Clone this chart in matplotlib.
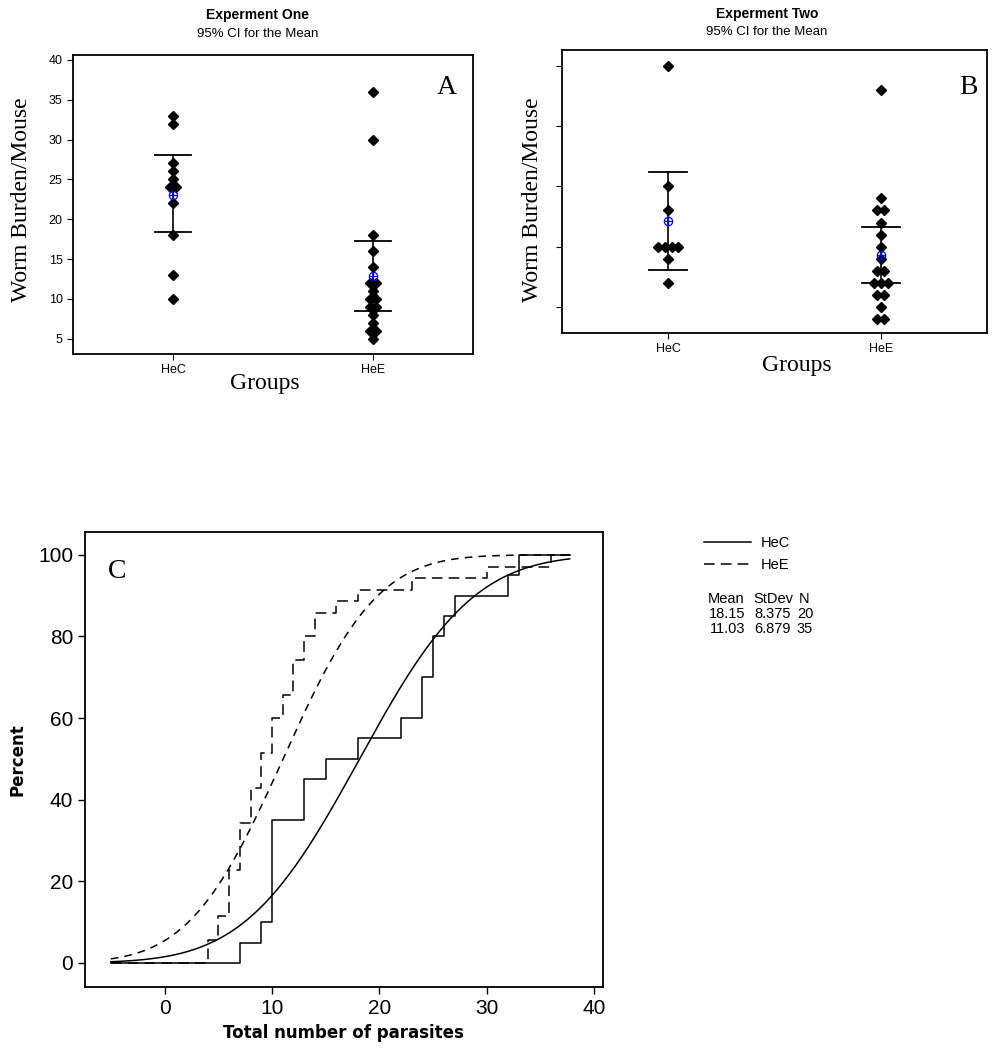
import math
import numpy as np
import matplotlib
matplotlib.use("Agg")
import matplotlib.pyplot as plt

# --- data ---
groups = ["HeC", "HeE"]

# Experiment one (panel A)
exp1_hec = [33, 32, 27, 26, 25, 24, 24, 22, 18, 13, 10]
exp1_hee = [36, 30, 18, 16, 14, 12, 12, 11, 10, 10, 9, 9, 8, 7, 6, 6, 5]
exp1_ci = [(18.4, 28.0), (8.5, 17.3)]

# Experiment two (panel B)
exp2_hec = [25, 15, 13, 10, 10, 10, 10, 9, 7]
exp2_hee = [23, 14, 13, 13, 12, 11, 10, 9, 8, 8, 7, 7, 7, 6, 6, 5, 4, 4]
exp2_ci = [(8.1, 16.2), (7.0, 11.6)]

# panel C summary table
means = [18.15, 11.03]
stdevs = [8.375, 6.879]
counts = [20, 35]
x_range = (-5.0, 37.7)

SANS = ["Liberation Sans", "DejaVu Sans"]
SERIF = ["Liberation Serif", "DejaVu Serif"]

fig = plt.figure(figsize=(9.99, 10.5), dpi=100)


def px(x, y):
    return x / 999, 1 - y / 1050


def jitter(vals, dx):
    vals = np.asarray(vals)
    offs = np.zeros(len(vals))
    for v in np.unique(vals):
        idx = np.where(vals == v)[0]
        n = len(idx)
        offs[idx] = (np.arange(n) - (n - 1) / 2) * dx
    return offs


def interval_panel(ax, data, ci, ylim, yticks, show_labels):
    for i, vals in enumerate(data):
        pos = i + 1
        lo, hi = ci[i]
        ax.plot([pos, pos], [lo, hi], color="black", lw=1.2, zorder=2)
        for yy in (lo, hi):
            ax.plot([pos - 0.09, pos + 0.09], [yy, yy], color="black", lw=1.3, zorder=2)
        ax.plot(pos + jitter(vals, 0.032), vals, "D", color="black", ms=4.8,
                mec="black", zorder=3)
        m = np.mean(vals)
        ax.plot(pos, m, "o", mfc="none", mec="blue", ms=6, mew=0.9, zorder=4)
        ax.plot(pos, m, "+", color="blue", ms=6, mew=0.9, zorder=4)
    ax.set_xlim(0.5, 2.5)
    ax.set_ylim(*ylim)
    ax.set_xticks([1, 2])
    ax.set_xticklabels(groups, family=SANS, fontsize=9)
    ax.set_yticks(yticks)
    if show_labels:
        ax.set_yticklabels([str(t) for t in yticks], family=SANS, fontsize=9)
    else:
        ax.set_yticklabels([])
    ax.tick_params(direction="out", length=4, width=0.8)
    for s in ax.spines.values():
        s.set_linewidth(1.3)


# Panel A
axA = fig.add_axes([73 / 999, 1 - 354 / 1050, 400 / 999, 299 / 1050])
interval_panel(axA, [exp1_hec, exp1_hee], exp1_ci, (3.1, 40.6),
               [5, 10, 15, 20, 25, 30, 35, 40], True)

# Panel B
axB = fig.add_axes([562 / 999, 1 - 333 / 1050, 425 / 999, 283 / 1050])
interval_panel(axB, [exp2_hec, exp2_hee], exp2_ci, (2.84, 26.3),
               [5, 10, 15, 20, 25], False)

for (tx, ty, t) in [(258, 15, "Experment One"), (767, 14, "Experment Two")]:
    fig.text(*px(tx, ty), t, ha="center", va="center", fontsize=10,
             fontweight="bold", family=SANS)
for (tx, ty) in [(258, 34), (767, 32)]:
    fig.text(*px(tx, ty), "95% CI for the Mean", ha="center", va="center",
             fontsize=9.5, family=SANS)

for (tx, ty) in [(22, 200), (532, 200)]:
    fig.text(*px(tx, ty), "Worm Burden/Mouse", rotation=90, ha="center",
             va="center", fontsize=17, family=SERIF)
for (tx, ty) in [(265, 383), (797, 365)]:
    fig.text(*px(tx, ty), "Groups", ha="center", va="center", fontsize=17,
             family=SERIF)
fig.text(*px(447, 88), "A", ha="center", va="center", fontsize=20, family=SERIF)
fig.text(*px(968, 87), "B", ha="center", va="center", fontsize=20, family=SERIF)

# Panel C: empirical CDF with fitted normal
axC = fig.add_axes([85 / 999, 1 - 987 / 1050, 518 / 999, 455 / 1050])
step_styles = ["-", (0, (7, 4))]
fit_styles = ["-", (0, (5, 4))]
all_data = [exp1_hec + exp2_hec, exp1_hee + exp2_hee]
xs = np.linspace(x_range[0], x_range[1], 300)
for i, vals in enumerate(all_data):
    vals = np.sort(vals)
    u, c = np.unique(vals, return_counts=True)
    pct = np.cumsum(c) / len(vals) * 100
    sx = np.concatenate([[x_range[0]], u, [x_range[1]]])
    sy = np.concatenate([[0], pct, [100]])
    axC.step(sx, sy, where="post", color="black", lw=1.1,
             linestyle=step_styles[i], label=groups[i])
    cdf = np.array([0.5 * (1 + math.erf((x - means[i]) / (stdevs[i] * math.sqrt(2))))
                    for x in xs]) * 100
    axC.plot(xs, cdf, color="black", lw=1.1, linestyle=fit_styles[i])

axC.set_xlim(-7.4, 40.8)
axC.set_ylim(-5.9, 105.6)
axC.set_xticks([0, 10, 20, 30, 40])
axC.set_yticks([0, 20, 40, 60, 80, 100])
for lab in axC.get_xticklabels() + axC.get_yticklabels():
    lab.set_family(SANS)
    lab.set_fontsize(15)
axC.tick_params(direction="out", length=5, width=1)
for s in axC.spines.values():
    s.set_linewidth(1.3)
fig.text(*px(343, 1033), "Total number of parasites", ha="center", va="center",
         fontsize=12, fontweight="bold")
fig.text(*px(17, 760), "Percent", rotation=90, ha="center", va="center",
         fontsize=12, fontweight="bold")
fig.text(*px(117, 571), "C", ha="center", va="center", fontsize=20, family=SERIF)

axC.legend(loc="upper left", bbox_to_anchor=px(704, 536),
           bbox_transform=fig.transFigure, frameon=False, borderaxespad=0,
           borderpad=0, handlelength=3.2, handletextpad=0.7,
           labelspacing=0.55, prop={"family": SANS, "size": 10.5})

tfs = 10.5
fig.text(*px(708, 599), "Mean", ha="left", va="center", fontsize=tfs, family=SANS)
fig.text(*px(753, 599), "StDev", ha="left", va="center", fontsize=tfs, family=SANS)
fig.text(*px(804, 599), "N", ha="center", va="center", fontsize=tfs, family=SANS)
for i in range(2):
    yy = 614 + 15 * i
    fig.text(*px(745, yy), f"{means[i]:.2f}", ha="right", va="center", fontsize=tfs, family=SANS)
    fig.text(*px(791, yy), f"{stdevs[i]:.3f}", ha="right", va="center", fontsize=tfs, family=SANS)
    fig.text(*px(805, yy), str(counts[i]), ha="center", va="center", fontsize=tfs, family=SANS)

fig.savefig("out.png", dpi=100)
